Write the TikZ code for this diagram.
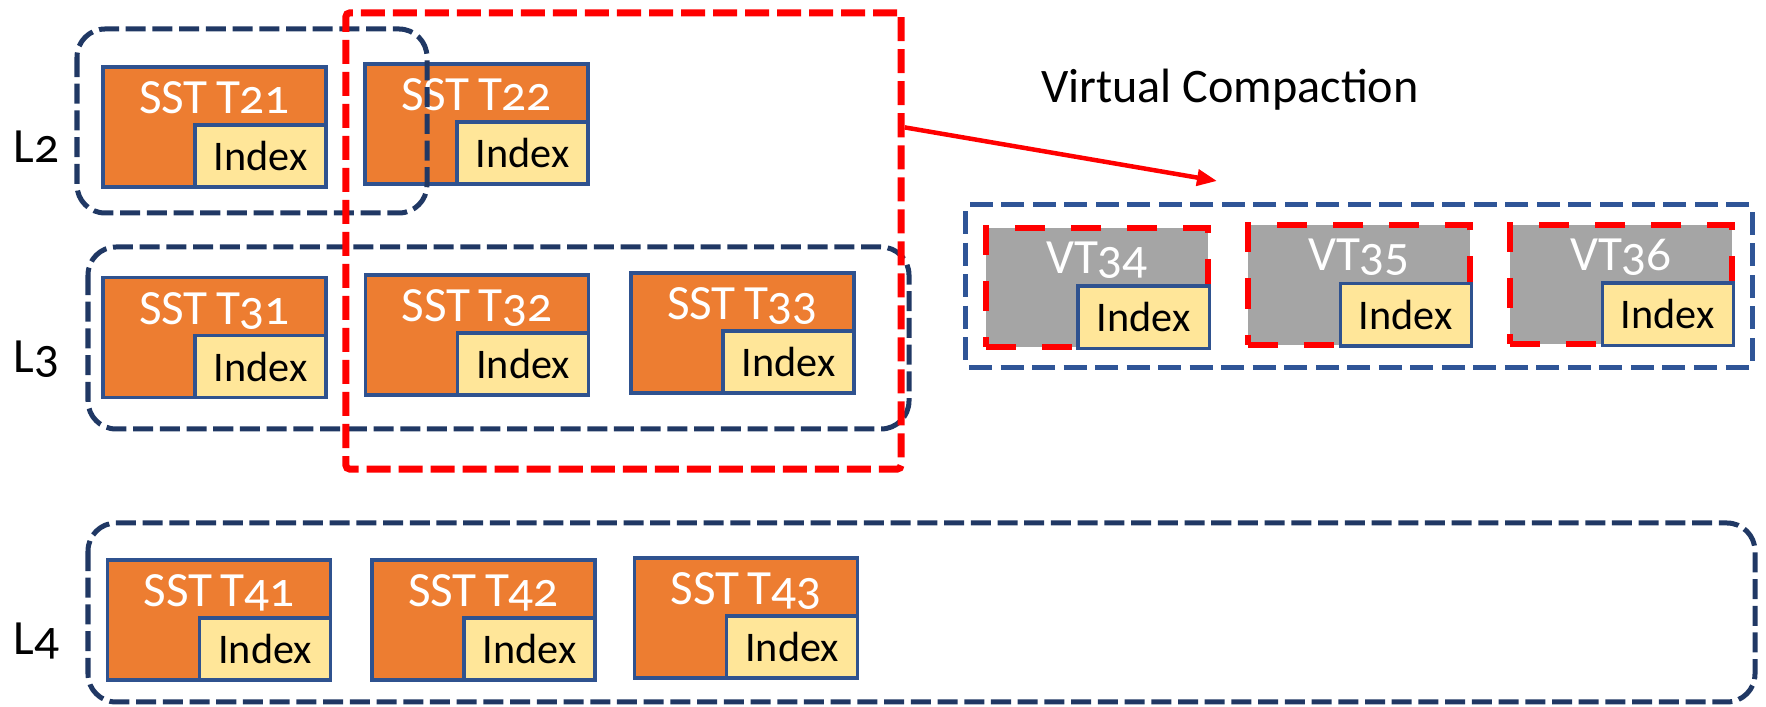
\documentclass[tikz,border=0pt]{standalone}
\usepackage{fontspec}
\setmainfont{Carlito}[Numbers=OldStyle]
\usetikzlibrary{arrows.meta,fit}
\definecolor{sstorange}{HTML}{ED7D31}
\definecolor{idxyellow}{HTML}{FFE699}
\definecolor{edgeblue}{HTML}{2F528F}
\definecolor{navy}{HTML}{203864}
\definecolor{groupblue}{HTML}{2F5597}
\definecolor{vtgray}{HTML}{A5A5A5}
\begin{document}
\begin{tikzpicture}[x=0.01cm, y=-0.01cm,
    sst/.style = {draw=edgeblue, fill=sstorange, line width=0.035cm, minimum width=2.23cm, minimum height=1.2cm, inner sep=0pt},
    vt/.style = {draw=red, fill=vtgray, line width=0.06cm, dash pattern=on 0.3cm off 0.26cm, minimum width=2.22cm, minimum height=1.19cm, inner sep=0pt},
    idx/.style = {draw=edgeblue, fill=idxyellow, line width=0.035cm, minimum width=1.31cm, minimum height=0.62cm, inner sep=0pt, anchor=south east, font=\fontsize{12}{14}\selectfont},
    sstname/.style = {anchor=north, inner sep=0pt, yshift=-0.16cm, text=white, font=\fontsize{14}{16}\selectfont},
    level/.style = {draw=navy, line width=0.05cm, dash pattern=on 0.2cm off 0.067cm, rounded corners=0.28cm},
    lname/.style = {anchor=base west, inner sep=0pt, font=\fontsize{14}{16}\selectfont},
    redbox/.style = {draw=red, line width=0.07cm, dash pattern=on 0.24cm off 0.08cm, rounded corners=0.04cm},
    vtgroup/.style = {draw=groupblue, line width=0.05cm, dash pattern=on 0.23cm off 0.085cm, rounded corners=0.03cm, inner sep=0.17cm},
    movearrow/.style = {red, line width=0.045cm, -{Triangle[length=0.2cm, width=0.16cm]}}
  ]
  \useasboundingbox (0,0) rectangle (1766,707);
  % level 2
  \node[sst, label={[sstname]north:SST\,T21}] (s21) at (214.5,127) {};
  \node[idx] (i21) at (s21.south east) {Index};
  \node[sst, label={[sstname]north:SST\,T22}] (s22) at (476.5,124) {};
  \node[idx] (i22) at (s22.south east) {Index};
  % level 3
  \node[sst, label={[sstname]north:SST\,T31}] (s31) at (214.5,337.5) {};
  \node[idx] (i31) at (s31.south east) {Index};
  \node[sst, label={[sstname]north:SST\,T32}] (s32) at (477,335) {};
  \node[idx] (i32) at (s32.south east) {Index};
  \node[sst, label={[sstname]north:SST\,T33}] (s33) at (742.5,333) {};
  \node[idx] (i33) at (s33.south east) {Index};
  % level 4
  \node[sst, label={[sstname]north:SST\,T41}] (s41) at (219,620) {};
  \node[idx] (i41) at (s41.south east) {Index};
  \node[sst, label={[sstname]north:SST\,T42}] (s42) at (483.5,620) {};
  \node[idx] (i42) at (s42.south east) {Index};
  \node[sst, label={[sstname]north:SST\,T43}] (s43) at (746,618) {};
  \node[idx] (i43) at (s43.south east) {Index};
  % virtual tables
  \node[vt, label={[sstname]north:VT34}] (v34) at (1097,287.5) {};
  \node[idx] (i34) at (v34.south east) {Index};
  \node[vt, label={[sstname]north:VT35}] (v35) at (1359,285) {};
  \node[idx] (i35) at (v35.south east) {Index};
  \node[vt, label={[sstname]north:VT36}] (v36) at (1621,284.5) {};
  \node[idx] (i36) at (v36.south east) {Index};
  \node[vtgroup, fit=(v34)(v35)(v36)] (vts) {};
  % levels
  \draw[level] (77,29) rectangle (427,213);
  \draw[level] (88,247) rectangle (909,429);
  \draw[level] (88,523) rectangle (1755,702);
  \node[lname] (l2) at (13,163) {L2};
  \node[lname] (l3) at (13,373) {L3};
  \node[lname] (l4) at (13,655) {L4};
  % compaction
  \node[redbox, minimum width=5.55cm, minimum height=4.56cm] (cmp) at (623.5,241) {};
  \node[anchor=base, inner sep=0pt, font=\fontsize{13.7}{16}\selectfont] (vctext) at (1230,103) {Virtual Compaction};
  \coordinate (vc) at (1217,181);
  \draw[movearrow] (cmp.22) -- (vc);
\end{tikzpicture}
\end{document}
